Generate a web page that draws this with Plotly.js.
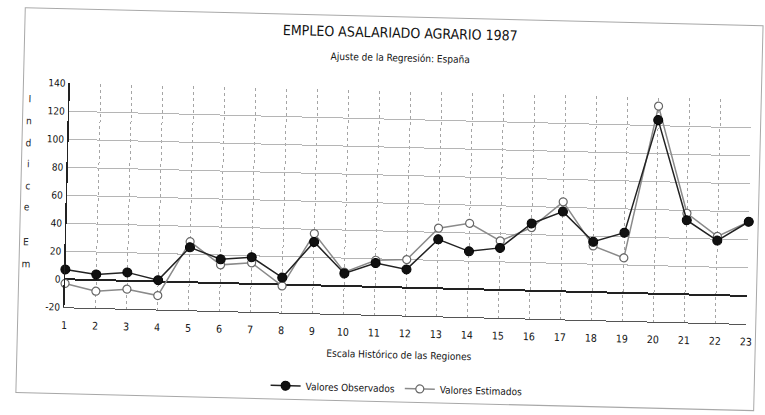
<!DOCTYPE html>
<html>
<head>
<meta charset="utf-8">
<script src="https://cdn.plot.ly/plotly-3.0.1.min.js"></script>
<style>
  html, body { margin: 0; padding: 0; background: #fff; overflow: hidden; }
  #wrap { position: absolute; left: 0; top: 0; width: 765px; height: 415px;
          transform: rotate(1.4deg); transform-origin: 382.5px 207.5px; }
  #chart { position: absolute; left: 0; top: 0; width: 765px; height: 415px; }
  #frame { position: absolute; left: 20px; top: 16px; width: 737px; height: 384px;
           border: 1px solid #a8a8a8; pointer-events: none; }
</style>
</head>
<body>
<div id="wrap">
  <div id="chart"></div>
  <div id="frame"></div>
</div>
<script>
// ---- data ----
const regiones = [1,2,3,4,5,6,7,8,9,10,11,12,13,14,15,16,17,18,19,20,21,22,23];
const valoresObservados = [7,4,6,1,25,17,19,5,31,9,17,13,35,27,30,48,57,36,43,124,53,39,53];
const valoresEstimados  = [-3,-8,-6,-10,29,13,15,-1,37,10,19,20,43,47,35,45,64,33,25,134,58,42,53];
const yTicks = [-20,0,20,40,60,80,100,120,140];
const yTitleLetters = ["I","n","d","i","c","e","E","m"];

const titulo = "EMPLEO ASALARIADO AGRARIO 1987";
const subtitulo = "Ajuste de la Regresión: España";
const xTitulo = "Escala Histórico de las Regiones";

const FONT = "'DejaVu Sans Condensed', 'Liberation Sans Narrow', sans-serif";

// plot area geometry (unrotated pixels)
const PT = 91, PB = 315, PL = 67, PR = 749;
const PH = PB - PT, PW = PR - PL;
const py = px => (PB - px) / PH;
const pxX = px => (px - PL) / PW;

const traces = [
  {
    x: regiones, y: valoresEstimados, name: "Valores Estimados",
    type: "scatter", mode: "lines+markers", cliponaxis: false,
    line: { color: "#8a8a8a", width: 1.5 },
    marker: { symbol: "circle", size: 8, color: "#ffffff", line: { color: "#666", width: 1.2 } }
  },
  {
    x: regiones, y: valoresObservados, name: "Valores Observados",
    type: "scatter", mode: "lines+markers", cliponaxis: false,
    line: { color: "#222", width: 1.5 },
    marker: { symbol: "circle", size: 9, color: "#111", line: { color: "#000", width: 1 } }
  }
];

const letterY = [108, 129.5, 151, 172.5, 194, 215.5, 250, 272];
const annotations = yTitleLetters.map((ch, i) => ({
  text: ch, xref: "paper", yref: "paper", x: pxX(27), y: py(letterY[i]),
  xanchor: "center", yanchor: "middle", showarrow: false,
  font: { family: FONT, size: 10, color: "#222" }
}));
annotations.push({
  text: subtitulo, xref: "paper", yref: "paper", x: pxX(396), y: py(57.5),
  xanchor: "center", yanchor: "middle", showarrow: false,
  font: { family: FONT, size: 10, color: "#111" }
});
annotations.push({
  text: xTitulo, xref: "paper", yref: "paper", x: pxX(402), y: py(354),
  xanchor: "center", yanchor: "middle", showarrow: false,
  font: { family: FONT, size: 10, color: "#111" }
});

const layout = {
  width: 765, height: 415,
  margin: { l: PL, r: 765 - PR, t: PT, b: 415 - PB },
  paper_bgcolor: "rgba(0,0,0,0)", plot_bgcolor: "#fff",
  font: { family: FONT, color: "#111" },
  title: {
    text: titulo, x: 396 / 765, xanchor: "center",
    yref: "container", y: 1 - 32.5 / 415, yanchor: "middle",
    font: { family: FONT, size: 14, color: "#111" }
  },
  showlegend: true,
  legend: {
    orientation: "h", traceorder: "reversed", x: pxX(401), xanchor: "center",
    y: py(388), yanchor: "middle", font: { family: FONT, size: 10, color: "#111" },
    itemwidth: 30, bgcolor: "rgba(0,0,0,0)"
  },
  xaxis: {
    range: [1, 23], tickmode: "array", tickvals: regiones, ticktext: regiones.map(String),
    showgrid: true, gridcolor: "#a5a5a5", griddash: "dot", gridwidth: 1,
    showline: true, linecolor: "#555", linewidth: 1,
    zeroline: false, ticks: "", ticklabelstandoff: 8,
    tickfont: { family: FONT, size: 10.5, color: "#111" }
  },
  yaxis: {
    range: [-20, 140], tickmode: "array", tickvals: yTicks, ticktext: yTicks.map(String),
    showgrid: true, gridcolor: "#b5b5b5", gridwidth: 1,
    showline: true, linecolor: "#222", linewidth: 1.5,
    zeroline: true, zerolinecolor: "#222", zerolinewidth: 2,
    ticks: "", ticklabelstandoff: 1,
    tickfont: { family: FONT, size: 10, color: "#111" }
  },
  annotations: annotations
};

Plotly.newPlot("chart", traces, layout, { staticPlot: true, displayModeBar: false });
</script>
</body>
</html>
